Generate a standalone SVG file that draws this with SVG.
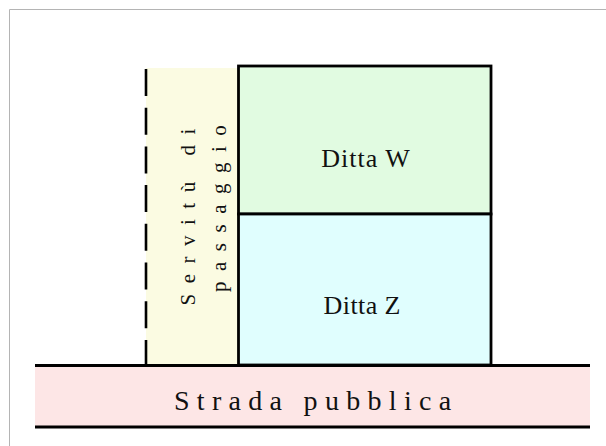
<svg xmlns="http://www.w3.org/2000/svg" width="606" height="446" viewBox="0 0 606 446">
  <style>
    .edge { stroke: #000; stroke-width: 2.8; }
    .lbl { font-family: "Liberation Serif", "DejaVu Serif", serif; fill: #111; }
  </style>
  <rect x="0" y="0" width="606" height="446" fill="#ffffff"/>
  <path d="M9.5 446 V9.5 H606" fill="none" stroke="#b4b4b4" stroke-width="1"/>

  <g id="servitu">
    <rect x="146" y="68" width="92" height="297" fill="#fbfbe2"/>
    <line x1="146" y1="69" x2="146" y2="365" stroke="#000" stroke-width="2.6" stroke-dasharray="27 11.7"/>
    <text class="lbl" font-size="21" letter-spacing="10.5" transform="translate(195,305.5) rotate(-90)" x="0" y="0">Servitù di</text>
    <text class="lbl" font-size="21" letter-spacing="10.5" transform="translate(225.5,292) rotate(-90)" x="0" y="0">passaggio</text>
  </g>

  <g id="strada">
    <rect x="35" y="365" width="555" height="62" fill="#fde6e6"/>
    <line class="edge" x1="35" y1="365.5" x2="590" y2="365.5"/>
    <line class="edge" x1="35" y1="427" x2="590" y2="427"/>
    <text class="lbl" font-size="28" letter-spacing="7.3" x="316.2" y="410" text-anchor="middle">Strada pubblica</text>
  </g>

  <g id="dittaW">
    <rect class="edge" x="238.5" y="66" width="252.5" height="148" style="fill:#e1fbe1"/>
    <text class="lbl" font-size="26" letter-spacing="1" x="366" y="167.3" text-anchor="middle">Ditta W</text>
  </g>

  <g id="dittaZ">
    <rect class="edge" x="238.5" y="214" width="252.5" height="151" style="fill:#e0fefe"/>
    <text class="lbl" font-size="26" letter-spacing="0.4" x="362.2" y="314.3" text-anchor="middle">Ditta Z</text>
  </g>

  <g id="connectors"/>
</svg>
